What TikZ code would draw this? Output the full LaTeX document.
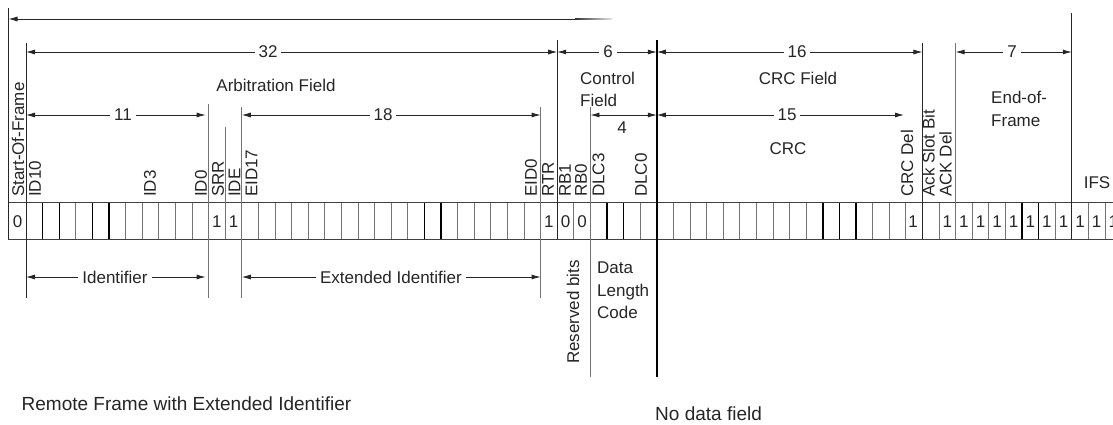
\documentclass[tikz,border=0pt]{standalone}
\usepackage{fontspec}
\setmainfont{Liberation Sans}
\usetikzlibrary{arrows.meta}
\begin{document}
\begin{tikzpicture}[x=1pt,y=-1pt,
  lbl/.style={font=\fontsize{17}{20}\selectfont, text=black!85, inner sep=0pt},
  captext/.style={font=\fontsize{19}{22}\selectfont, text=black!85, inner sep=0pt},
  vlbl/.style={lbl, rotate=90, anchor=west},
  dimlbl/.style={lbl, fill=white, inner sep=4pt},
  dim/.style={draw=black!85, line width=0.8pt, {Latex[length=9pt,width=5pt]}-{Latex[length=9pt,width=5pt]}},
  cellline/.style={draw=black!55, line width=0.7pt},
  thickcell/.style={draw=black, line width=1.4pt},
  longgrey/.style={draw=black!55, line width=0.8pt},
  longdark/.style={draw=black!85, line width=0.9pt},
  longblack/.style={draw=black, line width=1.4pt}]
\useasboundingbox (0,0) rectangle (1113,424);
\clip (0,0) rectangle (1113,424);
\def\cw{16.6}

% ---- bit row ----
\foreach \k in {0,...,66} {\draw[cellline] ({26+\k*\cw},202) -- ({26+\k*\cw},239);}
\foreach \k in {1,2,4,5,24,25,35,36,48,49,50,60,61} {\draw[thickcell] ({26+\k*\cw},202) -- ({26+\k*\cw},239);}
\coordinate (rowTL) at (8,202); \coordinate (rowTR) at (1113,202);
\coordinate (rowBL) at (8,239); \coordinate (rowBR) at (1113,239);
\draw[draw=black!75, line width=0.8pt] (rowTL) -- (rowTR);
\draw[draw=black!75, line width=0.8pt] (rowBL) -- (rowBR);

% ---- long boundary lines ----
\coordinate (sofT) at (8,8); \coordinate (sofB) at (8,239);
\draw[longdark] (sofT) -- (sofB);
\foreach \k/\t/\b/\s in {0/43/298/longdark, 11/104/298/longgrey, 12/127/239/longgrey,
  13/107/298/longgrey, 31/107/298/longgrey, 32/40/239/longdark, 34/107/377/longgrey,
  38/40/377/longblack, 54/43/239/longdark, 56/43/239/longgrey, 63/13/239/longdark} {
  \coordinate (vt\k) at ({26+\k*\cw},\t);
  \coordinate (vb\k) at ({26+\k*\cw},\b);
  \draw[\s] (vt\k) -- (vb\k);
}

% ---- top arrow ----
\coordinate (topL) at (8.5,19); \coordinate (topM) at (575,19); \coordinate (topR) at (612,19);
\draw[draw=black!85, line width=0.8pt, {Latex[length=9pt,width=5pt]}-] (topL) -- (topM);
\shade[left color=black!80, right color=black!10] (575,18.6) rectangle (612,19.4);

% ---- dimension arrows, row 1 ----
\coordinate (a32l) at (26,52);              \coordinate (a32r) at ({26+32*\cw},52);
\coordinate (a6l) at ({26+32*\cw},52);      \coordinate (a6r) at ({26+38*\cw},52);
\coordinate (a16l) at ({26+38*\cw},52);     \coordinate (a16r) at ({26+54*\cw},52);
\coordinate (a7l) at ({26+56*\cw},52);      \coordinate (a7r) at ({26+63*\cw},52);
\draw[dim] (a32l) -- (a32r);
\draw[dim] (a6l) -- (a6r);
\draw[dim] (a16l) -- (a16r);
\draw[dim] (a7l) -- (a7r);
\node[dimlbl] (n32) at (268,52) {32};
\node[dimlbl] (n6) at (608,52) {6};
\node[dimlbl] (n16) at (797,52) {16};
\node[dimlbl] (n7) at (1012,52) {7};

% ---- dimension arrows, row 2 ----
\coordinate (a11l) at (26,115);             \coordinate (a11r) at ({26+11*\cw-3},115);
\coordinate (a18l) at ({26+13*\cw},115);    \coordinate (a18r) at ({26+31*\cw},115);
\coordinate (a4l) at ({26+34*\cw},115);     \coordinate (a4r) at ({26+38*\cw},115);
\coordinate (a15l) at ({26+38*\cw},115);    \coordinate (a15r) at (904,115);
\draw[dim] (a11l) -- (a11r);
\draw[dim] (a18l) -- (a18r);
\draw[dim] (a4l) -- (a4r);
\draw[dim] (a15l) -- (a15r);
\node[dimlbl] (n11) at (123,115) {11};
\node[dimlbl] (n18) at (383,115) {18};
\node[lbl] (n4) at (622,128) {4};
\node[dimlbl] (n15) at (787,115) {15};

% ---- dimension arrows, bottom ----
\coordinate (aIl) at (26,277);              \coordinate (aIr) at ({26+11*\cw-3},277);
\coordinate (aEl) at ({26+13*\cw},277);     \coordinate (aEr) at ({26+31*\cw},277);
\draw[dim] (aIl) -- (aIr);
\draw[dim] (aEl) -- (aEr);
\node[dimlbl] (nId) at (115,277) {Identifier};
\node[dimlbl] (nExt) at (391,277) {Extended Identifier};

% ---- horizontal labels ----
\node[lbl, anchor=base] (arb) at (276,91) {Arbitration Field};
\node[lbl, anchor=base west] (ctl1) at (580,84) {Control};
\node[lbl, anchor=base west] (ctl2) at (580,106) {Field};
\node[lbl, anchor=base] (crcf) at (798,84) {CRC Field};
\node[lbl, anchor=base] (crc) at (788,154) {CRC};
\node[lbl, anchor=base west] (eof1) at (991,103) {End-of-};
\node[lbl, anchor=base west] (eof2) at (991,126) {Frame};
\node[lbl, anchor=base] (ifs) at (1097,188) {IFS};
\node[lbl, anchor=base west] (dlc1) at (597,273) {Data};
\node[lbl, anchor=base west] (dlc2) at (597,296) {Length};
\node[lbl, anchor=base west] (dlc3) at (597,318) {Code};
\node[lbl, rotate=90] (resv) at (573,312) {Reserved bits};

% ---- rotated bit labels ----
\foreach \x/\t/\n in {18/Start-Of-Frame/sof, 35/ID10/id10, 150/ID3/id3, 201/ID0/id0,
  218/SRR/srr, 234.5/IDE/ide, 251.5/EID17/eid17, 531/EID0/eid0, 548/RTR/rtr,
  565/RB1/rb1, 581/RB0/rb0, 598.5/DLC3/dlc3l, 641/DLC0/dlc0l, 907/CRC Del/crcdel,
  928.5/Ack Slot Bit/ackslot, 945.5/ACK Del/ackdel} {
  \node[vlbl] (l\n) at (\x,197) {\t};
}

% ---- bit values ----
\node[lbl] (vSOF) at (17.5,222) {0};
\node[lbl] (vSRR) at ({26+11.5*\cw},222) {1};
\node[lbl] (vIDE) at ({26+12.5*\cw},222) {1};
\node[lbl] (vRTR) at ({26+31.5*\cw},222) {1};
\node[lbl] (vRB1) at ({26+32.5*\cw},222) {0};
\node[lbl] (vRB0) at ({26+33.5*\cw},222) {0};
\node[lbl] (vCD) at ({26+53.5*\cw-1},222) {1};
\node[lbl] (vAD) at ({26+55.5*\cw},222) {1};
\foreach \k in {56,...,65} {\node[lbl] (v\k) at ({26+(\k+0.5)*\cw},222) {1};}

% ---- captions ----
\node[captext, anchor=base west] (cap1) at (21.5,410) {Remote Frame with Extended Identifier};
\node[captext, anchor=base west] (cap2) at (655,420) {No data field};
\end{tikzpicture}
\end{document}
